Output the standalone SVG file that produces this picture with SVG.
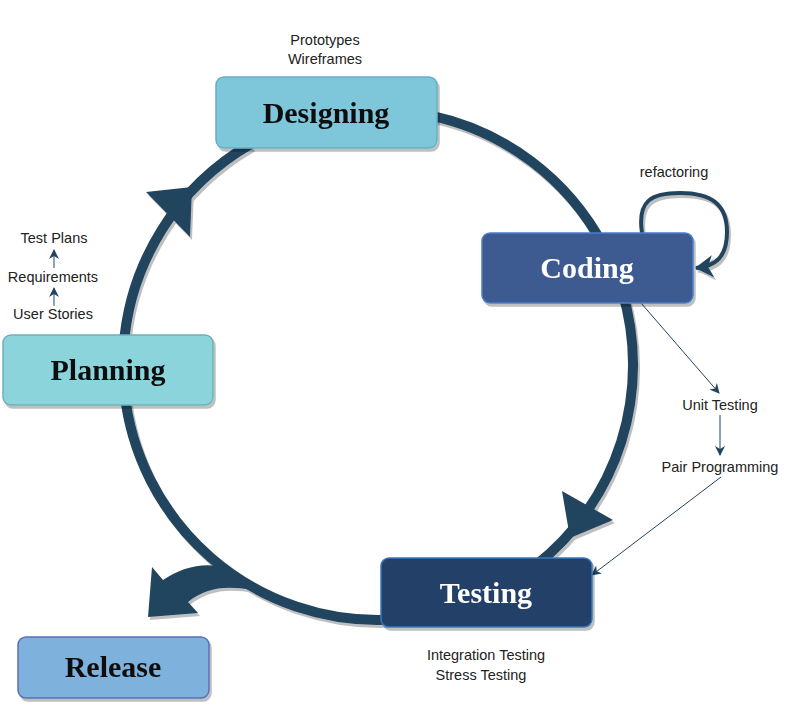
<svg xmlns="http://www.w3.org/2000/svg" width="794" height="723" viewBox="0 0 794 723">
<style>
.node{stroke-width:1.5}
.lbl{font-family:"Liberation Serif","Times New Roman",serif;font-weight:bold;font-size:30px;text-anchor:middle}
.small{font-family:"Liberation Sans",Arial,sans-serif;font-size:14.5px;fill:#222;text-anchor:middle}
.ring{fill:none;stroke:#23445f;stroke-width:10}
.thin{fill:none;stroke:#23445f;stroke-width:1}
</style>
<defs>
<filter id="sh" filterUnits="userSpaceOnUse" x="0" y="0" width="794" height="723">
<feOffset in="SourceAlpha" dx="2" dy="3" result="o"/>
<feFlood flood-color="#000" flood-opacity="0.25"/>
<feComposite in2="o" operator="in" result="s"/>
<feMerge><feMergeNode in="s"/><feMergeNode in="SourceGraphic"/></feMerge>
</filter>
<marker id="ah" markerUnits="userSpaceOnUse" markerWidth="12" markerHeight="10" refX="9" refY="5" orient="auto" viewBox="0 0 12 10">
<path d="M0,0 L10,5 L0,10 L3,5 Z" fill="#23445f"/>
</marker>
<marker id="ahBig" markerUnits="userSpaceOnUse" markerWidth="20" markerHeight="22" refX="17" refY="11" orient="auto" viewBox="0 0 20 22">
<path d="M0,0 L18,11 L0,22 L5,11 Z" fill="#23445f"/>
</marker>
</defs>

<g id="connectors">
<g filter="url(#sh)">
<path id="e-plan-design" class="ring" d="M123.6,347.2 A255,255 0 0 1 250.5,144.2"/>
<path id="e-design-code" class="ring" d="M431.0,115.6 A255,255 0 0 1 603.1,245.3"/>
<path id="e-code-test" class="ring" d="M621.9,290.4 A255,255 0 0 1 535.0,565.9"/>
<path id="e-test-plan" class="ring" d="M386.9,619.8 A255,255 0 0 1 124.4,391.7"/>
<polygon points="146,192 192,187 190,237" fill="#23445f"/>
<polygon points="562,491 613,520 570,538" fill="#23445f"/>
<path id="e-release" d="M218,566 C200,563 180,568 163,580 L152,567 L148,617 L198,613 L188,602 C205,588 225,585 252,590 Z" fill="#23445f"/>
<path id="e-refactor" d="M642,233 C637,200 652,193 680,193 C712,193 727,205 727,232 C727,258 715,266 696,268" fill="none" stroke="#23445f" stroke-width="4" marker-end="url(#ahBig)"/>
</g>
<path class="thin" d="M641,303 L719,393" marker-end="url(#ah)"/>
<path class="thin" d="M720,415 L720,455" marker-end="url(#ah)"/>
<path class="thin" d="M721,477 L592,575" marker-end="url(#ah)"/>
<path d="M54,268 L54,250" stroke="#8fa3b3" stroke-width="2" fill="none" marker-end="url(#ah)"/>
<path d="M54,306 L54,288" stroke="#8fa3b3" stroke-width="2" fill="none" marker-end="url(#ah)"/>
</g>

<g id="designing" filter="url(#sh)">
<rect class="node" x="216" y="77" width="221" height="71" rx="8" fill="#7ec6d9" stroke="#6aaec2"/>
<text class="lbl" x="326" y="123" fill="#111">Designing</text>
</g>
<g id="coding" filter="url(#sh)">
<rect class="node" x="482" y="233" width="211" height="70" rx="8" fill="#3c5a91" stroke="#4e7ec9"/>
<text class="lbl" x="587" y="278" fill="#fff">Coding</text>
</g>
<g id="planning" filter="url(#sh)">
<rect class="node" x="3" y="335" width="210" height="70" rx="8" fill="#8cd4dc" stroke="#6fb1b8"/>
<text class="lbl" x="108" y="380" fill="#111">Planning</text>
</g>
<g id="testing" filter="url(#sh)">
<rect class="node" x="381" y="558" width="211" height="69" rx="8" fill="#233f67" stroke="#3b78b8"/>
<text class="lbl" x="486" y="603" fill="#fff">Testing</text>
</g>
<g id="release" filter="url(#sh)">
<rect class="node" x="18" y="637" width="191" height="61" rx="8" fill="#7eb1dc" stroke="#5b6fb5"/>
<text class="lbl" x="113" y="677" fill="#111">Release</text>
</g>

<g id="notes">
<text class="small" x="325" y="45">Prototypes</text>
<text class="small" x="325" y="64">Wireframes</text>
<text class="small" x="674" y="177">refactoring</text>
<text class="small" x="54" y="243">Test Plans</text>
<text class="small" x="53" y="282">Requirements</text>
<text class="small" x="53" y="319">User Stories</text>
<text class="small" x="720" y="410">Unit Testing</text>
<text class="small" x="720" y="472">Pair Programming</text>
<text class="small" x="486" y="660">Integration Testing</text>
<text class="small" x="481" y="680">Stress Testing</text>
</g>
</svg>
